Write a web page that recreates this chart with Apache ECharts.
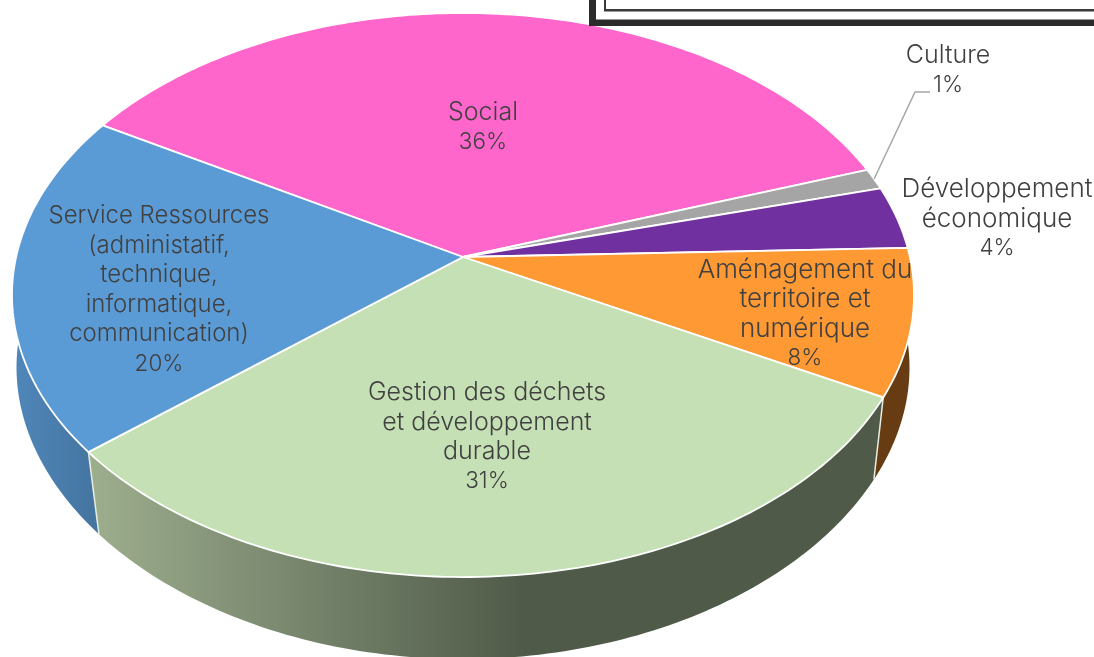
<!DOCTYPE html>
<html>
<head>
<meta charset="utf-8">
<title>Répartition</title>
<script src="https://cdn.jsdelivr.net/npm/echarts@6/dist/echarts.min.js"></script>
<style>
  html, body { margin: 0; padding: 0; background: #fff; }
  #chart { width: 1094px; height: 657px; }
</style>
</head>
<body>
<div id="chart"></div>
<script>
var categories = [
  'Social',
  'Culture',
  'Développement\néconomique',
  'Aménagement du\nterritoire et\nnumérique',
  'Gestion des déchets\net développement\ndurable',
  'Service Ressources\n(administatif,\ntechnique,\ninformatique,\ncommunication)'
];
var values = [36.2, 1.2, 3.6, 8.4, 31, 19.6];
var top_colors = ['#ff66cc', '#a5a5a5', '#7030a0', '#ff9933', '#c5e0b4', '#5b9bd5'];
var side_colors = ['#a8438a', '#6f6f6f', '#4a206b', '#673c12', '#4f5a48', '#44749f'];
var label_pos = [[483, 127], [948, 70], [997, 219], [805, 314], [487, 437], [159, 290]];
var label_size = [25, 25, 26, 26, 25, 24];

// 3D pie : perspective of the pie plane
var start_angle = -59.5;
var cx = 463, cy = 257, a = 446.9, b = 276.9, p = 0.1348;
var depth = 82;

var total = values.reduce(function (s, v) { return s + v; }, 0);

function slice_range(i) {
  var sum = 0;
  for (var k = 0; k < i; k++) sum += values[k];
  return [start_angle + sum / total * 360, start_angle + (sum + values[i]) / total * 360];
}
function top_point(deg) {
  var r = deg * Math.PI / 180;
  var u = Math.sin(r), v = -Math.cos(r), w = 1 - p * v;
  return [cx + a * u / w, cy + b * v / w];
}
function bottom_point(deg) {
  var t = top_point(deg);
  // the lower rim pulls in more towards the viewer
  var v = Math.max(0, -Math.cos(deg * Math.PI / 180));
  var shrink = 0.006 + 0.034 * v;
  return [t[0] + (cx - t[0]) * shrink, t[1] + depth];
}
function rim(from, to, fn) {
  var pts = [], n = Math.max(2, Math.ceil(Math.abs(to - from)));
  for (var i = 0; i <= n; i++) pts.push(fn(from + (to - from) * i / n));
  return pts;
}
function side_fill(i) {
  if (i === 4) {
    return { type: 'linear', x: 90, y: 0, x2: 525, y2: 0, global: true, colorStops: [
      { offset: 0, color: '#9dae8d' },
      { offset: 0.5, color: '#76846c' },
      { offset: 1, color: '#4f5a48' }
    ] };
  }
  if (i === 5) {
    return { type: 'linear', x: 15, y: 0, x2: 100, y2: 0, global: true, colorStops: [
      { offset: 0, color: '#4f86b9' },
      { offset: 1, color: '#44749f' }
    ] };
  }
  return side_colors[i];
}

var option = {
  animation: false,
  series: [
    {
      // the sides, under the top faces
      type: 'custom',
      coordinateSystem: 'none',
      silent: true,
      z: 1,
      data: values,
      renderItem: function (params) {
        var i = params.dataIndex, range = slice_range(i);
        var up = rim(range[0], range[1], top_point);
        var down = rim(range[0], range[1], bottom_point).reverse();
        return {
          type: 'group',
          children: [
            {
              type: 'polygon',
              shape: { points: up.concat(down) },
              style: { fill: side_fill(i), stroke: null }
            },
            {
              type: 'polyline',
              shape: { points: [top_point(range[0]), bottom_point(range[0])] },
              style: { fill: null, stroke: '#e8ece4', lineWidth: 1.5 }
            }
          ]
        };
      }
    },
    {
      type: 'custom',
      coordinateSystem: 'none',
      silent: true,
      z: 2,
      data: values,
      renderItem: function (params) {
        var i = params.dataIndex, range = slice_range(i);
        return {
          type: 'polygon',
          shape: { points: [[cx, cy]].concat(rim(range[0], range[1], top_point)) },
          style: { fill: top_colors[i], stroke: '#fff', lineWidth: 1.8, lineJoin: 'round' }
        };
      }
    },
    {
      // labels and the Culture leader line
      type: 'custom',
      coordinateSystem: 'none',
      silent: true,
      z: 3,
      data: values,
      renderItem: function (params, api) {
        var i = params.dataIndex, range = slice_range(i);
        var lines = categories[i].split('\n').map(function (s) { return '{n|' + s + '}'; });
        lines.push('{v|' + Math.round(api.value(0)) + '%}');
        var children = [{
          type: 'text',
          x: label_pos[i][0],
          y: label_pos[i][1],
          style: {
            text: lines.join('\n'),
            align: 'center',
            verticalAlign: 'middle',
            rich: {
              n: { fill: '#404040', fontFamily: 'Inter', fontWeight: 300, fontSize: label_size[i], lineHeight: 29.5 },
              v: { fill: '#404040', fontFamily: 'Inter', fontWeight: 300, fontSize: 22.5, lineHeight: 29.5 }
            }
          }
        }];
        if (categories[i] === 'Culture') {
          children.push({
            type: 'polyline',
            shape: { points: [top_point((range[0] + range[1]) / 2), [915, 92], [930, 92]] },
            style: { fill: null, stroke: '#a6a6a6', lineWidth: 1.5 }
          });
        }
        return { type: 'group', children: children };
      }
    }
  ],
  graphic: [
    // framed box cut off at the top right corner
    { type: 'rect', z: 10, shape: { x: 589, y: -10, width: 515, height: 36 }, style: { fill: '#2b2b2b' } },
    { type: 'rect', z: 11, shape: { x: 596, y: -10, width: 508, height: 29.5 }, style: { fill: '#fff' } },
    { type: 'rect', z: 12, shape: { x: 604, y: -10, width: 500, height: 21.5 }, style: { fill: '#3a3a3a' } },
    { type: 'rect', z: 13, shape: { x: 606, y: -10, width: 498, height: 19 }, style: { fill: '#fff' } }
  ]
};

var chart = echarts.init(document.getElementById('chart'));
chart.setOption(option);
</script>
</body>
</html>
